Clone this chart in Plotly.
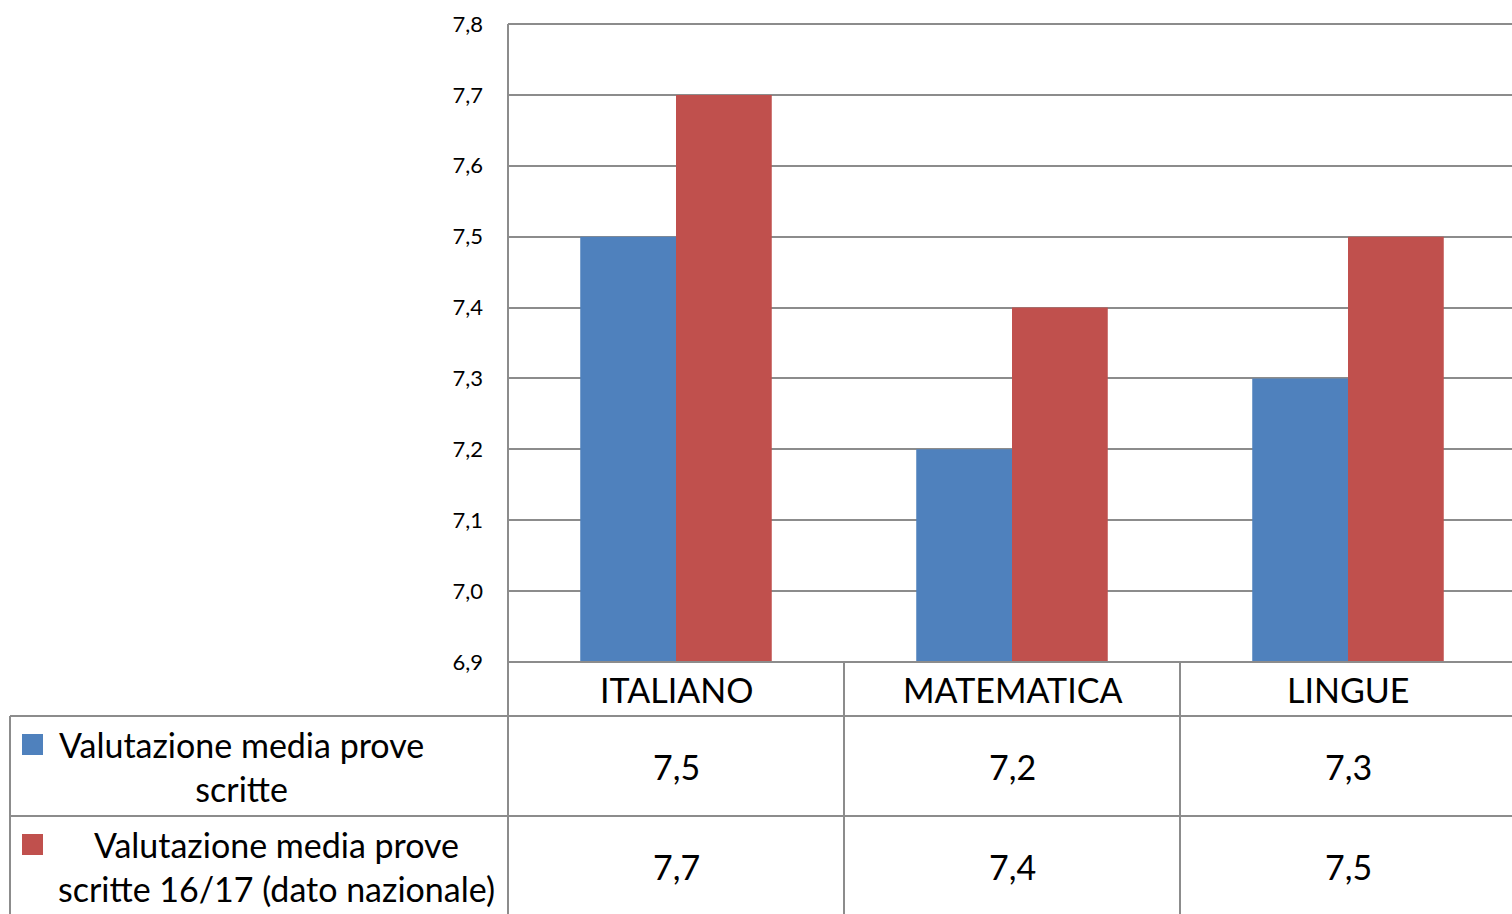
import plotly.graph_objects as go

# Data
categories = ["ITALIANO", "MATEMATICA", "LINGUE"]
series_names = ["Valutazione media prove<br>scritte",
                "Valutazione media prove<br>scritte 16/17 (dato nazionale)"]
media_scuola = [7.5, 7.2, 7.3]
media_nazionale = [7.7, 7.4, 7.5]
tick_vals = [6.9, 7.0, 7.1, 7.2, 7.3, 7.4, 7.5, 7.6, 7.7, 7.8]

BLUE = "#4F81BD"
RED = "#C0504D"
GRID = "#8C8C8C"
FONT = "Lato"

W, H = 1512, 914
L, R, T, B = 508, 0, 24, 252
PW = W - L - R
PH = H - T - B


def px(x):
    return (x - L) / PW


def py(y):
    return (H - B - y) / PH


fig = go.Figure()
fig.add_bar(x=categories, y=media_scuola, marker=dict(color=BLUE, line_width=0),
            name="scuola", showlegend=False)
fig.add_bar(x=categories, y=media_nazionale, marker=dict(color=RED, line_width=0),
            name="nazionale", showlegend=False)

shapes = []


def hline(y, x0, x1):
    shapes.append(dict(type="line", xref="paper", yref="paper",
                       x0=px(x0), x1=px(x1), y0=py(y), y1=py(y),
                       line=dict(color=GRID, width=2)))


def vline(x, y0, y1):
    shapes.append(dict(type="line", xref="paper", yref="paper",
                       x0=px(x), x1=px(x), y0=py(y0), y1=py(y1),
                       line=dict(color=GRID, width=2)))


# top border of the plot area and data table grid
hline(24, 508, 1512)
hline(662, 508, 1512)
hline(716, 10, 1512)
hline(816, 10, 1512)
vline(508, 24, 914)
vline(844, 662, 914)
vline(1180, 662, 914)
vline(10, 716, 914)

# legend keys
for y0, col in [(734, BLUE), (834, RED)]:
    shapes.append(dict(type="rect", xref="paper", yref="paper",
                       x0=px(22), x1=px(43), y0=py(y0), y1=py(y0 + 21),
                       fillcolor=col, line_width=0))

annotations = []
cat_centers = [676, 1012, 1348]
for cx, cat, v1, v2 in zip(cat_centers, categories, media_scuola, media_nazionale):
    annotations.append(dict(x=px(cx), y=py(689), text=cat))
    annotations.append(dict(x=px(cx), y=py(766), text=f"{v1:.1f}".replace(".", ",")))
    annotations.append(dict(x=px(cx), y=py(866), text=f"{v2:.1f}".replace(".", ",")))

annotations.append(dict(x=px(241), y=py(766), text=series_names[0]))
annotations.append(dict(x=px(276), y=py(866), text=series_names[1]))

for a in annotations:
    a.update(xref="paper", yref="paper", showarrow=False, align="center",
             xanchor="center", yanchor="middle",
             font=dict(family=FONT, size=34, color="#000000"))

fig.update_layout(
    width=W, height=H,
    margin=dict(l=L, r=R, t=T, b=B, pad=0),
    paper_bgcolor="white", plot_bgcolor="white",
    barmode="group", bargap=0.43, bargroupgap=0,
    separators=",.",
    font=dict(family=FONT, color="#000000"),
    shapes=shapes, annotations=annotations,
    xaxis=dict(range=[-0.5, 2.5 - 4 / 336], showticklabels=False,
               showgrid=False, zeroline=False, showline=False, ticks=""),
    yaxis=dict(range=[6.9, 7.8], tickvals=tick_vals, tickformat=".1f",
               showgrid=True, gridcolor=GRID, gridwidth=2, zeroline=False,
               showline=False, ticks="", ticklabelstandoff=24,
               tickfont=dict(family=FONT, size=22, color="#000000")),
)

fig.write_html("out.html")
